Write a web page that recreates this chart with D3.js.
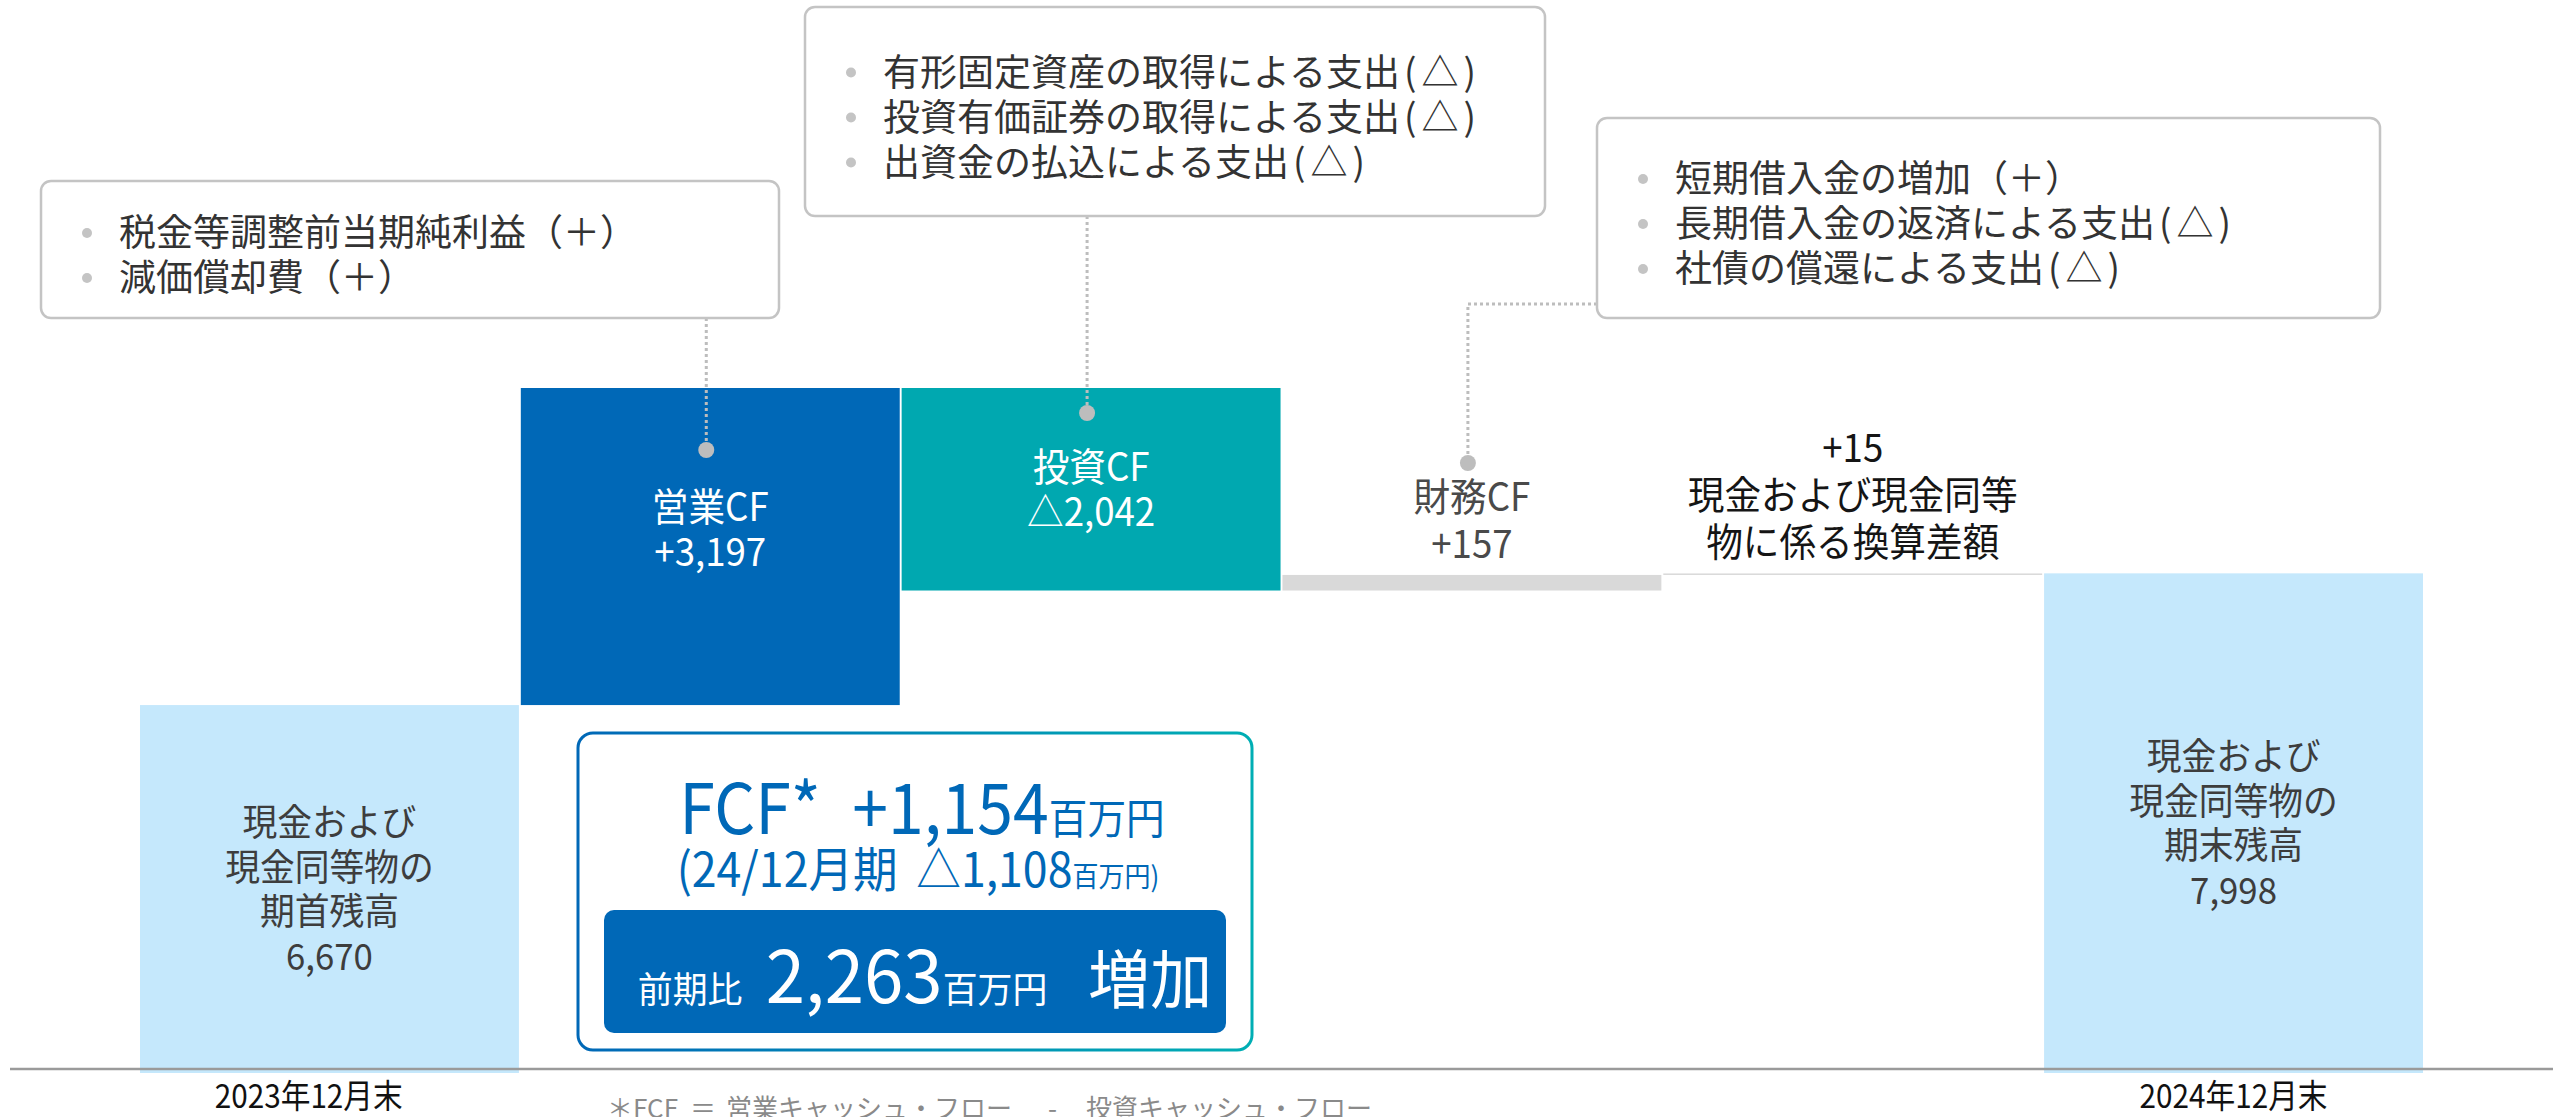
<!DOCTYPE html>
<html>
<head>
<meta charset="utf-8">
<script src="https://cdn.jsdelivr.net/npm/d3@7"></script>
<style>
  body { margin: 0; background: #fff; }
  svg { display: block; }
</style>
</head>
<body>
<svg id="chart" width="2553" height="1117"></svg>
<script>
// ---- data ----
const categories = ["期首残高", "営業CF", "投資CF", "財務CF", "換算差額", "期末残高"];
const values = [6670, 3197, -2042, 157, 15, 7998];
const kinds = ["total", "delta", "delta", "delta", "delta", "total"];
const barNames = [
  ["現金および", "現金同等物の", "期首残高"],
  ["営業CF"],
  ["投資CF"],
  ["財務CF"],
  ["現金および現金同等", "物に係る換算差額"],
  ["現金および", "現金同等物の", "期末残高"]
];
const axisLabels = ["2023年12月末", "", "", "", "", "2024年12月末"];
const noteLines = [
  ["税金等調整前当期純利益（＋）", "減価償却費（＋）"],
  ["有形固定資産の取得による支出(△)", "投資有価証券の取得による支出(△)", "出資金の払込による支出(△)"],
  ["短期借入金の増加（＋）", "長期借入金の返済による支出(△)", "社債の償還による支出(△)"]
];
const noteBars = ["営業CF", "投資CF", "財務CF"];
const fcfValue = 1154;
const fcfPrev = -1108;
const fcfChange = 2263;
const fcfPeriod = "24/12月期";
const footParts = ["＊FCF", "＝", "営業キャッシュ・フロー", "-", "投資キャッシュ・フロー"];
const axisFloor = 2960; // value where the (broken) axis starts

// ---- setup ----
const svg = d3.select("#chart");
const font = "'Noto Sans CJK JP', sans-serif";
svg.attr("font-family", font);
const fmt = d3.format(",");
const fmtDelta = v => (v >= 0 ? "+" : "△") + fmt(Math.abs(v));

let run = 0;
const bars = categories.map((c, i) => {
  let a, b;
  if (kinds[i] === "total") { a = axisFloor; b = values[i]; run = values[i]; }
  else { a = run; b = run + values[i]; run = b; }
  return { c, i, v: values[i], kind: kinds[i], lo: Math.min(a, b), hi: Math.max(a, b) };
});

const x = d3.scaleBand()
    .domain(categories)
    .range([140, 2423])
    .paddingInner(0.005);

const y = d3.scaleLinear()
    .domain([axisFloor, d3.max(bars, d => d.hi)])
    .range([1073, 388]);

const fill = d => d.kind === "total" ? "#c5e8fc"
  : d.c === "営業CF" ? "#0068b7"
  : d.c === "投資CF" ? "#00a8b0" : "#d9d9d9";

// ---- bars ----
svg.append("g").selectAll("rect")
  .data(bars)
  .join("rect")
    .attr("x", d => x(d.c))
    .attr("y", d => y(d.hi))
    .attr("width", x.bandwidth())
    .attr("height", d => Math.max(1, y(d.lo) - y(d.hi)))
    .attr("fill", fill);

// ---- bar labels ----
const labelG = svg.append("g").attr("text-anchor", "middle");
bars.forEach(d => {
  const cx = x(d.c) + x.bandwidth() / 2;
  const valText = d.kind === "total" ? fmt(d.v) : fmtDelta(d.v);
  const lines = d.c === "換算差額" ? [valText].concat(barNames[d.i]) : barNames[d.i].concat([valText]);
  const top = y(d.hi), bottom = y(d.lo);
  let first, step, size, color;
  if (d.kind === "total") {
    step = 44.5; size = 37; color = "#3d3d3d";
    first = (top + bottom) / 2 - (lines.length - 1) / 2 * step + 14;
  } else if (bottom - top > 60) {
    step = 45; size = 39; color = "#fff";
    first = (top + bottom) / 2 - (lines.length - 1) / 2 * step + 14 + (d.c === "営業CF" ? -17 : 0);
  } else {
    step = 47; size = 39; color = d.c === "財務CF" ? "#4a4a4a" : "#151515";
    first = top - 17 - (lines.length - 1) * step;
  }
  lines.forEach((t, k) => {
    labelG.append("text")
      .attr("transform", `translate(${cx},${first + k * step}) scale(0.94,1)`)
      .attr("font-size", size)
      .attr("fill", color)
      .text(t);
  });
});

// ---- axis ----
const gx = svg.append("g")
    .attr("transform", "translate(0,1069)")
    .call(d3.axisBottom(x).tickSize(0).tickPadding(16).tickFormat((d, i) => axisLabels[i]));
gx.select(".domain").remove();
gx.selectAll("text")
    .attr("font-size", 33)
    .attr("font-family", font)
    .attr("fill", "#111")
    .attr("transform", "scale(0.9,1)")
    .attr("dx", (d, i) => i === 0 ? -23 : 0);

svg.append("line")
    .attr("x1", 10).attr("x2", 2553)
    .attr("y1", 1069).attr("y2", 1069)
    .attr("stroke", "#9a9a9a")
    .attr("stroke-width", 2.5);

// ---- callout boxes ----
const boxes = [
  { x: 41, y: 181, w: 738, h: 137, dotY: 450 },
  { x: 805, y: 7, w: 740, h: 209, dotY: 413 },
  { x: 1597, y: 118, w: 783, h: 200, dotY: 463, elbowY: 304 }
];
const noteG = svg.append("g");
boxes.forEach((b, k) => {
  const bar = bars.find(d => d.c === noteBars[k]);
  const cx = x(bar.c) + x.bandwidth() / 2 - 4;
  const path = b.elbowY
    ? `M${b.x},${b.elbowY}H${cx}V${b.dotY}`
    : `M${cx},${b.y + b.h}V${b.dotY}`;
  noteG.append("path")
    .attr("d", path)
    .attr("fill", "none")
    .attr("stroke", "#bdbdbd")
    .attr("stroke-width", 3)
    .attr("stroke-dasharray", "3 3");
  noteG.append("circle")
    .attr("cx", cx).attr("cy", b.dotY).attr("r", 8)
    .attr("fill", "#bdbdbd");
  noteG.append("rect")
    .attr("x", b.x).attr("y", b.y)
    .attr("width", b.w).attr("height", b.h)
    .attr("rx", 10)
    .attr("fill", "#fff")
    .attr("stroke", "#c4c4c4")
    .attr("stroke-width", 2.5);
  const lines = noteLines[k];
  const first = b.y + b.h / 2 - (lines.length - 1) / 2 * 45 + 19;
  lines.forEach((t, j) => {
    const by = first + j * 45;
    noteG.append("circle")
      .attr("cx", b.x + 46).attr("cy", by - 13).attr("r", 5)
      .attr("fill", "#c4c4c4");
    const txt = noteG.append("text")
      .attr("x", b.x + 78).attr("y", by)
      .attr("font-size", 37)
      .attr("fill", "#333");
    t.split(/(\(△\))/).filter(s => s).forEach(s => {
      const ts = txt.append("tspan").text(s);
      if (s === "(△)") ts.attr("dx", 4).attr("letter-spacing", 5);
    });
  });
});

// ---- FCF box ----
const defs = svg.append("defs");
const grad = defs.append("linearGradient")
    .attr("id", "fcfGrad")
    .attr("gradientUnits", "userSpaceOnUse")
    .attr("x1", 578).attr("x2", 1252).attr("y1", 0).attr("y2", 0);
grad.append("stop").attr("offset", 0).attr("stop-color", "#0068b7");
grad.append("stop").attr("offset", 1).attr("stop-color", "#00aeb4");

const fg = svg.append("g");
fg.append("rect")
    .attr("x", 578).attr("y", 733).attr("width", 674).attr("height", 317)
    .attr("rx", 15)
    .attr("fill", "#fff")
    .attr("stroke", "url(#fcfGrad)")
    .attr("stroke-width", 3);
fg.append("rect")
    .attr("x", 604).attr("y", 910).attr("width", 622).attr("height", 123)
    .attr("rx", 10)
    .attr("fill", "#0068b7");

const t1 = fg.append("text").attr("transform", "translate(922,834) scale(0.92,1)")
    .attr("text-anchor", "middle").attr("fill", "#0068b7");
t1.append("tspan").attr("font-size", 70).text("FCF*");
t1.append("tspan").attr("font-size", 70).attr("dx", 34).text(fmtDelta(fcfValue));
t1.append("tspan").attr("font-size", 42).text("百万円");

const t2 = fg.append("text").attr("transform", "translate(918,887) scale(0.93,1)")
    .attr("text-anchor", "middle").attr("fill", "#0068b7");
t2.append("tspan").attr("font-size", 48).text("(" + fcfPeriod);
t2.append("tspan").attr("font-size", 48).attr("dx", 20).text(fmtDelta(fcfPrev));
t2.append("tspan").attr("font-size", 28).text("百万円)");

const t3 = fg.append("text").attr("transform", "translate(925,1003) scale(0.97,1)")
    .attr("text-anchor", "middle").attr("fill", "#fff");
t3.append("tspan").attr("font-size", 36).text("前期比");
t3.append("tspan").attr("font-size", 73).attr("dx", 24).text(fmt(fcfChange));
t3.append("tspan").attr("font-size", 36).text("百万円");
t3.append("tspan").attr("font-size", 64).attr("dx", 42).text("増加");

// ---- footnote ----
const footX = [607, 690, 726, 1048, 1086];
const foot = svg.append("text")
    .attr("y", 1118)
    .attr("font-size", 26)
    .attr("fill", "#8a8a8a");
footParts.forEach((s, i) => foot.append("tspan").attr("x", footX[i]).text(s));
</script>
</body>
</html>
